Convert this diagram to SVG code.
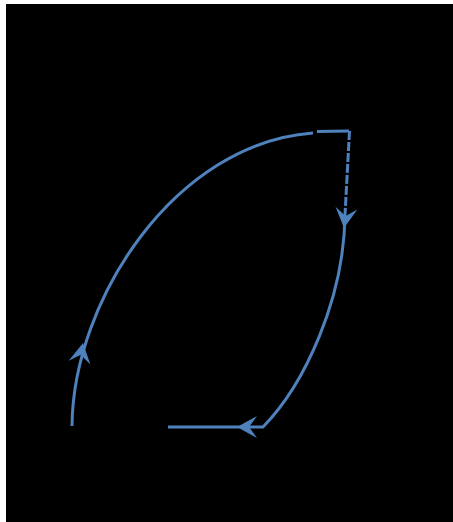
<svg xmlns="http://www.w3.org/2000/svg" width="453" height="522" viewBox="0 0 453 522">
  <defs>
    <style>
      .ln { fill: none; stroke: #4f81bd; stroke-width: 3; }
      .dash { stroke-dasharray: 9 2; }
      .ah { fill: #4f81bd; }
    </style>
    <path id="head" d="M0,0 L-20,-11 Q-15,-4 -12,0 Q-15,4 -20,11 Z"/>
  </defs>
  <rect x="0" y="0" width="453" height="522" fill="#ffffff"/>
  <rect x="6" y="4" width="447" height="518" fill="#000000"/>
  <g id="connectors">
    <path class="ln" d="M72,426 C73,300 175,143 313,133"/>
    <path class="ln" d="M317,131.5 L349,131"/>
    <path class="ln dash" d="M349.5,131 L345,215"/>
    <path class="ln" d="M345,215 C344,300 304,385 263,427 L168,427"/>
    <use class="ah" href="#head" transform="translate(83,343) rotate(-80)"/>
    <use class="ah" href="#head" transform="translate(344,228) rotate(97)"/>
    <use class="ah" href="#head" transform="translate(237,427) rotate(180)"/>
  </g>
</svg>
